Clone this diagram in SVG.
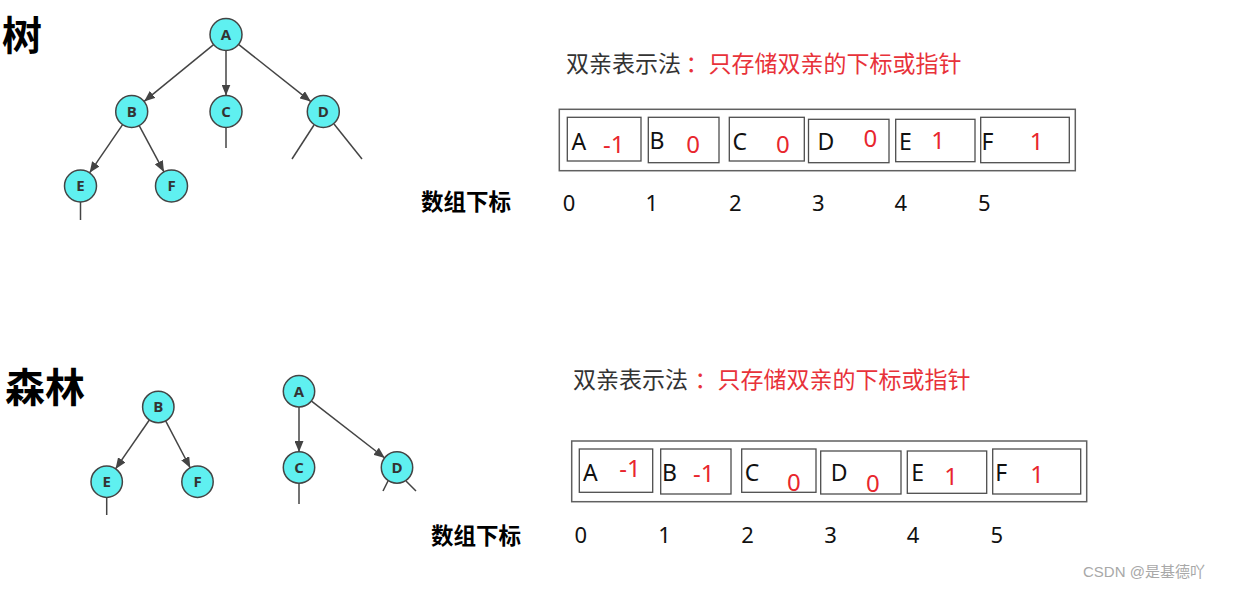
<svg xmlns="http://www.w3.org/2000/svg" width="1234" height="590" viewBox="0 0 1234 590">
<style>
.bg{fill:#ffffff}
.node circle{fill:#5ff0f0;stroke:#444;stroke-width:1.5}
.node text{font-family:"Open Sans","Liberation Sans",sans-serif;font-weight:bold;font-size:15px;fill:#333;text-anchor:middle}
.edge{stroke:#444;stroke-width:1.5;fill:none}
.arr{marker-end:url(#ah)}
.heading{font-family:"Noto Sans CJK SC",sans-serif;font-weight:bold;font-size:40px;fill:#000}
.title{font-family:"Noto Sans CJK SC",sans-serif;font-size:23px}
.dark{fill:#333}
.red{fill:#e8323a}
.outer{fill:none;stroke:#606060;stroke-width:1.5}
.cell{fill:none;stroke:#4d4d4d;stroke-width:1.3}
.letter{font-family:"Noto Sans","Liberation Sans",sans-serif;font-size:23px;fill:#111}
.val{font-family:"Noto Sans","Liberation Sans",sans-serif;font-size:24px;fill:#e8262d;text-anchor:middle}
.idx{font-family:"Noto Sans","Liberation Sans",sans-serif;font-size:22px;fill:#111;text-anchor:middle}
.idxlab{font-family:"Noto Sans CJK SC",sans-serif;font-weight:bold;font-size:22.5px;fill:#000}
.wm{font-family:"Liberation Sans","Noto Sans CJK SC",sans-serif;font-size:15px;fill:#a8a8a8}
</style>
<defs>
<marker id="ah" markerUnits="userSpaceOnUse" markerWidth="11" markerHeight="9" refX="11" refY="4.5" orient="auto">
<path d="M0,0 L11,4.5 L0,9 z" fill="#444"/>
</marker>
</defs>
<rect class="bg" x="0" y="0" width="1234" height="590"/>

<text class="heading" x="2" y="50">树</text>
<text class="heading" x="5" y="402">森林</text>

<g id="connectors">
<line class="edge arr" x1="213.6" y1="44.6" x2="144.1" y2="101.4"/>
<line class="edge arr" x1="226" y1="50.5" x2="226" y2="95.5"/>
<line class="edge arr" x1="238.5" y1="44.4" x2="310.8" y2="101.6"/>
<line class="edge arr" x1="122.6" y1="124.7" x2="89.6" y2="172.8"/>
<line class="edge arr" x1="139.2" y1="125.6" x2="164" y2="171.9"/>
<line class="edge" x1="226" y1="127.5" x2="226" y2="148"/>
<line class="edge" x1="314" y1="125" x2="292" y2="159"/>
<line class="edge" x1="334" y1="124" x2="362" y2="159"/>
<line class="edge" x1="80.5" y1="202" x2="80.5" y2="220"/>

<line class="edge arr" x1="149.5" y1="419.8" x2="115.5" y2="468.9"/>
<line class="edge arr" x1="165.5" y1="420.7" x2="190.3" y2="468"/>
<line class="edge arr" x1="299" y1="407" x2="299" y2="452"/>
<line class="edge arr" x1="311.2" y1="400.8" x2="384.8" y2="458"/>
<line class="edge" x1="106.7" y1="497.5" x2="106.7" y2="515"/>
<line class="edge" x1="299" y1="483" x2="299" y2="504"/>
<line class="edge" x1="388" y1="481" x2="383" y2="491"/>
<line class="edge" x1="406" y1="481" x2="416" y2="491"/>
</g>

<g id="t-A" class="node"><circle cx="226" cy="34.5" r="16"/><text x="226" y="39.8">A</text></g>
<g id="t-B" class="node"><circle cx="131.7" cy="111.5" r="16"/><text x="131.7" y="116.8">B</text></g>
<g id="t-C" class="node"><circle cx="226" cy="111.5" r="16"/><text x="226" y="116.8">C</text></g>
<g id="t-D" class="node"><circle cx="323.3" cy="111.5" r="16"/><text x="323.3" y="116.8">D</text></g>
<g id="t-E" class="node"><circle cx="80.5" cy="186" r="16"/><text x="80.5" y="191.3">E</text></g>
<g id="t-F" class="node"><circle cx="171.5" cy="186" r="16"/><text x="171.5" y="191.3">F</text></g>

<g id="f-B" class="node"><circle cx="158.3" cy="407" r="15.7"/><text x="158.3" y="412.3">B</text></g>
<g id="f-E" class="node"><circle cx="106.7" cy="481.7" r="15.7"/><text x="106.7" y="487">E</text></g>
<g id="f-F" class="node"><circle cx="197.5" cy="481.7" r="15.7"/><text x="197.5" y="487">F</text></g>
<g id="f-A" class="node"><circle cx="299" cy="391.3" r="15.7"/><text x="299" y="396.6">A</text></g>
<g id="f-C" class="node"><circle cx="299" cy="467.5" r="15.7"/><text x="299" y="472.8">C</text></g>
<g id="f-D" class="node"><circle cx="397" cy="467.5" r="15.7"/><text x="397" y="472.8">D</text></g>

<g id="top-title">
<text class="title dark" x="566" y="71.5">双亲表示法</text>
<text class="title red" x="685.5" y="71.5">：只存储双亲的下标或指针</text>
</g>

<g id="top-array">
<rect class="outer" x="559.3" y="109.3" width="516" height="61.4"/>
<rect class="cell" x="567.3" y="117.3" width="73.7" height="43.7"/>
<rect class="cell" x="648.3" y="117.3" width="70.7" height="45.4"/>
<rect class="cell" x="729.3" y="117.3" width="75" height="43.7"/>
<rect class="cell" x="808.5" y="119.3" width="80.5" height="43.4"/>
<rect class="cell" x="895.7" y="119.3" width="79.3" height="42.4"/>
<rect class="cell" x="980.7" y="117.3" width="88.6" height="45.4"/>
<text class="letter" x="571.5" y="149.5">A</text>
<text class="letter" x="649.5" y="148.5">B</text>
<text class="letter" x="732.5" y="149.5">C</text>
<text class="letter" x="817.5" y="149.5">D</text>
<text class="letter" x="899" y="149.5">E</text>
<text class="letter" x="981.5" y="150">F</text>
<text class="val" x="613.8" y="152.7">-1</text>
<text class="val" x="693" y="153.3">0</text>
<text class="val" x="782.8" y="153">0</text>
<text class="val" x="870.3" y="147.3">0</text>
<text class="val" x="938" y="149">1</text>
<text class="val" x="1036.5" y="150">1</text>
</g>
<g id="top-index">
<text class="idxlab" x="421" y="210">数组下标</text>
<text class="idx" x="569" y="211">0</text>
<text class="idx" x="651.8" y="211">1</text>
<text class="idx" x="735.3" y="211">2</text>
<text class="idx" x="818.3" y="211">3</text>
<text class="idx" x="900.8" y="211">4</text>
<text class="idx" x="984.2" y="211">5</text>
</g>

<g id="bottom-title">
<text class="title dark" x="573" y="387.5">双亲表示法</text>
<text class="title red" x="694.5" y="387.5">：只存储双亲的下标或指针</text>
</g>

<g id="bottom-array">
<rect class="outer" x="571.7" y="441" width="515" height="60.7"/>
<rect class="cell" x="579.3" y="449" width="73.4" height="43.3"/>
<rect class="cell" x="660.7" y="449" width="70.3" height="45"/>
<rect class="cell" x="741.7" y="449" width="74.3" height="43.3"/>
<rect class="cell" x="820.7" y="451" width="80.3" height="43"/>
<rect class="cell" x="907.3" y="451" width="79.4" height="42.3"/>
<rect class="cell" x="992.7" y="449" width="88" height="45"/>
<text class="letter" x="583" y="481">A</text>
<text class="letter" x="662" y="481">B</text>
<text class="letter" x="744.7" y="481">C</text>
<text class="letter" x="830.7" y="480.7">D</text>
<text class="letter" x="911.3" y="480.7">E</text>
<text class="letter" x="995.3" y="480.7">F</text>
<text class="val" x="630" y="476.7">-1</text>
<text class="val" x="703.8" y="482.3">-1</text>
<text class="val" x="793.8" y="490.7">0</text>
<text class="val" x="872.8" y="491.7">0</text>
<text class="val" x="951.2" y="485">1</text>
<text class="val" x="1037.2" y="483.3">1</text>
</g>
<g id="bottom-index">
<text class="idxlab" x="431" y="543.5">数组下标</text>
<text class="idx" x="580.8" y="543">0</text>
<text class="idx" x="664.5" y="543">1</text>
<text class="idx" x="747.5" y="543">2</text>
<text class="idx" x="830.5" y="543">3</text>
<text class="idx" x="913" y="543">4</text>
<text class="idx" x="996.7" y="543">5</text>
</g>

<text class="wm" x="1083" y="577">CSDN @是基德吖</text>
</svg>
